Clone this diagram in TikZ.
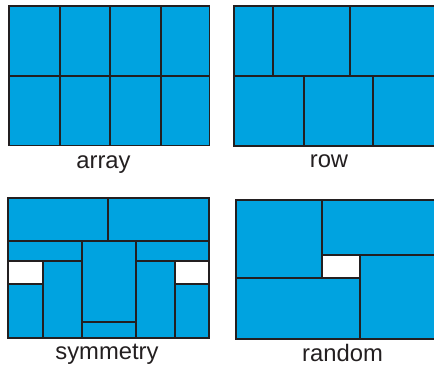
\documentclass[tikz,border=0pt]{standalone}
\usepackage{fontspec}
\setmainfont{Liberation Sans}
\definecolor{tileblue}{HTML}{00A3E0}
\definecolor{edgegray}{HTML}{231F20}
\definecolor{labelgray}{HTML}{231F20}
\begin{document}
\begin{tikzpicture}[x=1pt,y=-1pt,
  cell/.style={fill=tileblue,draw=edgegray,line width=1.8pt,line join=miter},
  gap/.style={fill=white,draw=edgegray,line width=1.8pt},
  edge/.style={draw=edgegray,line width=1.8pt},
  caption/.style={anchor=base,inner sep=0pt,text=labelgray,
    font=\fontsize{23.8}{28}\selectfont}]
\useasboundingbox (0,0) rectangle (434,368);

% --- array: regular 4 x 2 grid ---
\draw[cell] (9,6) rectangle (209.5,145.5);
\draw[edge] (9,76) -- (209.5,76);
\foreach \xx in {60,110,161} \draw[edge] (\xx,6) -- (\xx,145.5);
\node[caption] (arrayLabel) at (103.5,168) {array};

% --- row: rows with independent splits ---
\draw[cell] (234,6) rectangle (436,146);
\draw[edge] (234,76) -- (436,76);
\draw[edge] (272.7,6) -- (272.7,76);
\draw[edge] (350,6) -- (350,76);
\draw[edge] (303.7,76) -- (303.7,146);
\draw[edge] (373,76) -- (373,146);
\node[caption] (rowLabel) at (329,167) {row};

% --- symmetry: mirrored layout ---
\draw[cell] (8,198.3) rectangle (108.3,241);
\draw[cell] (108.3,198.3) rectangle (209,241);
\draw[cell] (8,241) rectangle (82,261);
\draw[cell] (135.7,241) rectangle (209,261);
\draw[cell] (82,241) rectangle (135.7,321.7);
\draw[cell] (82,321.7) rectangle (135.7,338.3);
\draw[gap]  (8,261) rectangle (43,283.7);
\draw[cell] (8,283.7) rectangle (43,338.3);
\draw[cell] (43,261) rectangle (82,338.3);
\draw[cell] (135.7,261) rectangle (174.7,338.3);
\draw[gap]  (174.7,261) rectangle (209,283.7);
\draw[cell] (174.7,283.7) rectangle (209,338.3);
\node[caption] (symmetryLabel) at (107,359) {symmetry};

% --- random: pinwheel around a hole ---
\draw[cell] (236,200.3) rectangle (437,339.3);
\draw[gap]  (321.7,255) rectangle (360,277.7);
\draw[edge] (321.7,200.3) -- (321.7,277.7);
\draw[edge] (321.7,255) -- (437,255);
\draw[edge] (236,277.7) -- (360,277.7);
\draw[edge] (360,255) -- (360,339.3);
\node[caption] (randomLabel) at (342.5,361.7) {random};
\end{tikzpicture}
\end{document}
